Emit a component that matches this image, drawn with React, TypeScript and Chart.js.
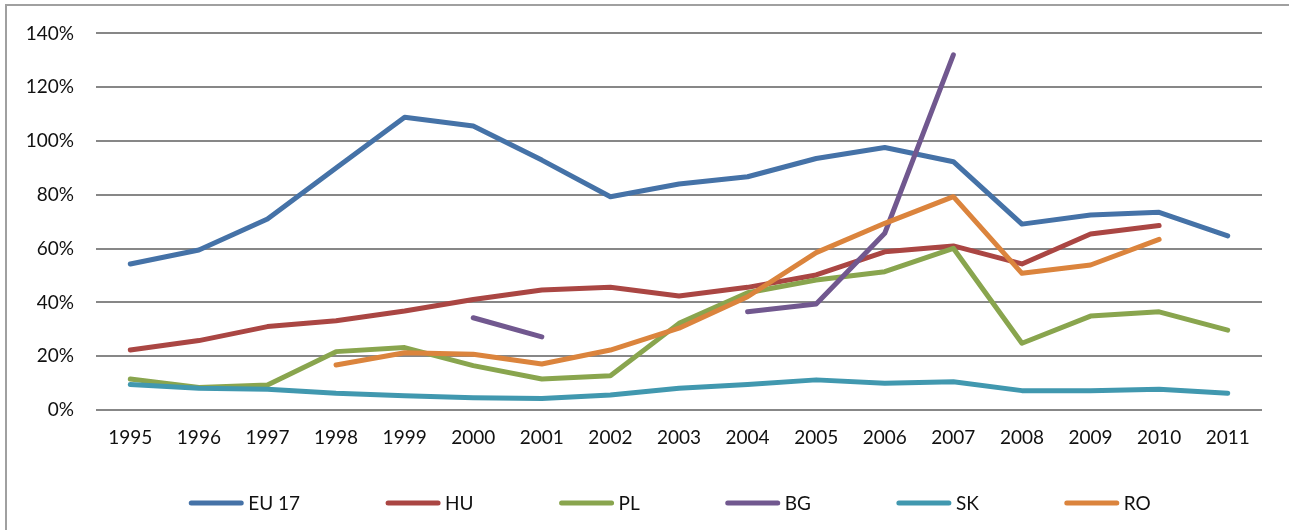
import React, { useEffect, useRef } from 'react';
import { Chart, registerables } from 'chart.js';

Chart.register(...registerables);

const FONT = 'Lato, "Open Sans", sans-serif';

const years = ['1995', '1996', '1997', '1998', '1999', '2000', '2001', '2002', '2003', '2004', '2005', '2006', '2007', '2008', '2009', '2010', '2011'];

const eu17 = [54.3, 59.5, 71, 90, 108.8, 105.6, 92.9, 79.3, 84, 86.7, 93.5, 97.6, 92.3, 69.1, 72.5, 73.5, 64.7];
const hu = [22.3, 25.8, 31, 33.2, 36.8, 41.1, 44.6, 45.6, 42.4, 45.6, 50.2, 58.8, 61, 54.3, 65.4, 68.6, null];
const pl = [11.5, 8.4, 9.3, 21.7, 23.2, 16.5, 11.5, 12.7, 32.2, 43.6, 48.3, 51.4, 60.1, 24.8, 34.9, 36.5, 29.7];
const bg = [null, null, null, null, null, 34.3, 27.2, null, null, 36.5, 39.4, 65.7, 132, null, null, null, null];
const sk = [9.5, 8.1, 7.7, 6.2, 5.3, 4.6, 4.3, 5.6, 8.1, 9.5, 11.2, 9.9, 10.5, 7.2, 7.2, 7.7, 6.2];
const ro = [null, null, null, 16.7, 21.3, 20.7, 17.1, 22.3, 30.4, 42.1, 58.5, 69.4, 79.3, 50.8, 53.9, 63.4, null];

const seriesLabels = ['EU 17', 'HU', 'PL', 'BG', 'SK', 'RO'];
const seriesColors = ['#4572A7', '#AA4643', '#89A54E', '#71588F', '#4198AF', '#DB843D'];
const seriesValues = [eu17, hu, pl, bg, sk, ro];

const yTickMax = 140;
const yTickStep = 20;

const legendPlugin = {
  id: 'customLegend',
  afterDraw(chart: any) {
    const ctx = chart.ctx;
    const lineLen = 50;
    const textGap = 57;
    const itemGap = 88;
    const y = 503;
    ctx.save();
    ctx.font = `19px ${FONT}`;
    const items = chart.data.datasets.map((ds: any) => ({
      label: ds.label,
      color: ds.borderColor,
      w: ctx.measureText(ds.label).width,
    }));
    let total = 0;
    items.forEach((it: any, i: number) => {
      total += textGap + it.w + (i < items.length - 1 ? itemGap : 0);
    });
    const { left, right } = chart.chartArea;
    let x = (left + right) / 2 - 8 - total / 2;
    for (const it of items) {
      ctx.strokeStyle = it.color;
      ctx.lineWidth = 5;
      ctx.lineCap = 'round';
      ctx.beginPath();
      ctx.moveTo(x, y);
      ctx.lineTo(x + lineLen, y);
      ctx.stroke();
      ctx.fillStyle = '#111';
      ctx.textBaseline = 'middle';
      ctx.textAlign = 'left';
      ctx.fillText(it.label, x + textGap, y + 1);
      x += textGap + it.w + itemGap;
    }
    ctx.restore();
  },
};

export default function App() {
  const canvasRef = useRef<HTMLCanvasElement | null>(null);

  useEffect(() => {
    const canvas = canvasRef.current;
    if (!canvas) return;
    const chart = new Chart(canvas, {
      type: 'line',
      data: {
        labels: years,
        datasets: seriesLabels.map((label, i) => ({
          label,
          data: seriesValues[i],
          borderColor: seriesColors[i],
          backgroundColor: seriesColors[i],
          borderWidth: 5,
          borderCapStyle: 'round',
          borderJoinStyle: 'round',
          pointRadius: 0,
          pointHoverRadius: 0,
          tension: 0,
          spanGaps: false,
          fill: false,
          order: seriesLabels.length - i,
        })),
      },
      options: {
        responsive: false,
        animation: false,
        layout: { padding: { top: 33, left: 0, right: 27, bottom: 0 } },
        plugins: {
          legend: { display: false },
          tooltip: { enabled: false },
          title: { display: false },
        },
        scales: {
          x: {
            offset: true,
            grid: { display: false, drawTicks: false },
            border: { display: false },
            ticks: {
              color: '#111',
              font: { family: FONT, size: 19 },
              padding: 16,
              maxRotation: 0,
              autoSkip: false,
            },
            afterFit: (scale: any) => {
              scale.height = 120;
            },
          },
          y: {
            min: 0,
            max: yTickMax,
            grid: { color: '#878787', lineWidth: 2, drawTicks: false },
            border: { display: false },
            ticks: {
              stepSize: yTickStep,
              color: '#111',
              font: { family: FONT, size: 19 },
              padding: 22,
              callback: (v: any) => `${v}%`,
            },
            afterFit: (scale: any) => {
              scale.width = 96;
            },
          },
        },
      },
      plugins: [legendPlugin],
    });
    return () => chart.destroy();
  }, []);

  return (
    <div style={{ position: 'absolute', left: 0, top: 0, width: 1289, height: 530, overflow: 'hidden', background: '#fff' }}>
      <div
        style={{
          position: 'absolute',
          left: 5,
          top: 4,
          width: 1400,
          height: 600,
          borderTop: '2px solid #a0a0a0',
          borderLeft: '2px solid #a0a0a0',
          boxSizing: 'border-box',
        }}
      />
      <canvas ref={canvasRef} width={1289} height={530} style={{ position: 'absolute', left: 0, top: 0, display: 'block' }} />
    </div>
  );
}
